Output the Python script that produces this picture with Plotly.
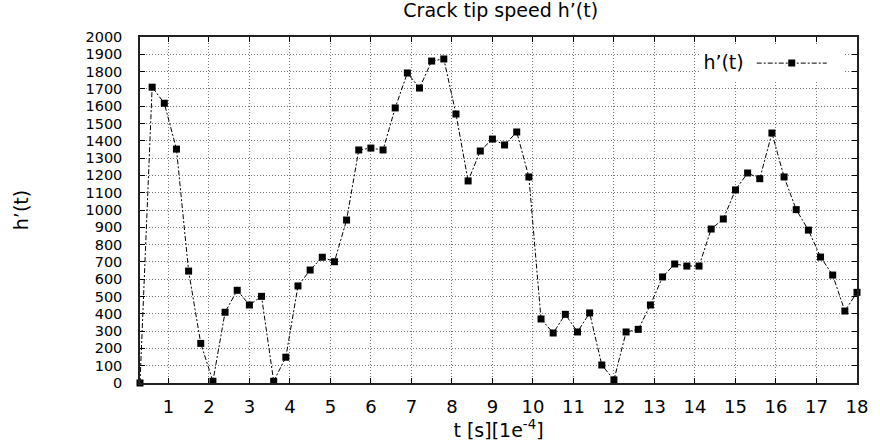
import plotly.graph_objects as go

# crack tip speed samples, time in units of 1e-4 s
t = [0.3, 0.6, 0.9, 1.2, 1.5, 1.8, 2.1, 2.4, 2.7, 3.0,
     3.3, 3.6, 3.9, 4.2, 4.5, 4.8, 5.1, 5.4, 5.7, 6.0,
     6.3, 6.6, 6.9, 7.2, 7.5, 7.8, 8.1, 8.4, 8.7, 9.0,
     9.3, 9.6, 9.9, 10.2, 10.5, 10.8, 11.1, 11.4, 11.7, 12.0,
     12.3, 12.6, 12.9, 13.2, 13.5, 13.8, 14.1, 14.4, 14.7, 15.0,
     15.3, 15.6, 15.9, 16.2, 16.5, 16.8, 17.1, 17.4, 17.7, 18.0]
speed = [0, 1710, 1617, 1352, 647, 229, 10, 409, 536, 451,
         501, 10, 149, 561, 653, 727, 701, 942, 1347, 1358,
         1347, 1590, 1792, 1705, 1861, 1873, 1555, 1168, 1341, 1410,
         1376, 1451, 1191, 370, 289, 397, 295, 405, 104, 18,
         295, 310, 451, 613, 688, 676, 676, 890, 948, 1116,
         1214, 1181, 1445, 1191, 1002, 884, 728, 624, 416, 524]

x_ticks = list(range(1, 19))
y_ticks = list(range(0, 2001, 100))

FONT = "DejaVu Sans"

fig = go.Figure()
fig.add_trace(go.Scatter(
    x=t, y=speed, mode="lines+markers", name="\u00a0",
    line=dict(color="black", width=1, dash="5px,2px,2px,2px"),
    marker=dict(symbol="square", size=7, color="black"),
    cliponaxis=False,
))

axis_common = dict(
    showline=True, linecolor="#222", linewidth=1.5, mirror="allticks",
    ticks="inside", ticklen=5, tickcolor="black", tickwidth=1,
    showgrid=True, gridcolor="#777", gridwidth=1, griddash="1px,2px",
    zeroline=False,
)

fig.update_xaxes(
    range=[0.3, 18], tickvals=x_ticks, ticktext=[str(v) for v in x_ticks],
    ticklabelstandoff=7,
    tickfont=dict(family=FONT, size=18, color="black"),
    title=dict(text="t [s][1e<sup>-4</sup>]", font=dict(family=FONT, size=19, color="black"),
               standoff=4),
    **axis_common,
)
fig.update_yaxes(
    range=[0, 2000], tickvals=y_ticks, ticktext=[str(v) for v in y_ticks],
    ticklabelstandoff=13,
    tickfont=dict(family=FONT, size=14.5, color="black"),
    title=dict(text="h’(t)", font=dict(family=FONT, size=19, color="black"),
               standoff=52),
    **axis_common,
)

fig.update_layout(
    width=880, height=448,
    margin=dict(l=140, r=19, t=37, b=65),
    paper_bgcolor="white", plot_bgcolor="white",
    title=dict(text="Crack tip speed h’(t)", x=0.569, xanchor="center",
               y=0.977, yanchor="middle",
               font=dict(family=FONT, size=19, color="black")),
    showlegend=True,
    legend=dict(
        x=0.981, y=0.979, xanchor="right", yanchor="top",
        bgcolor="white", borderwidth=0,
        itemwidth=70,
        title=dict(text="h’(t)", side="left", font=dict(family=FONT, size=19, color="black")),
        font=dict(family=FONT, size=19, color="black"),
    ),
)

fig.write_html("out.html")
